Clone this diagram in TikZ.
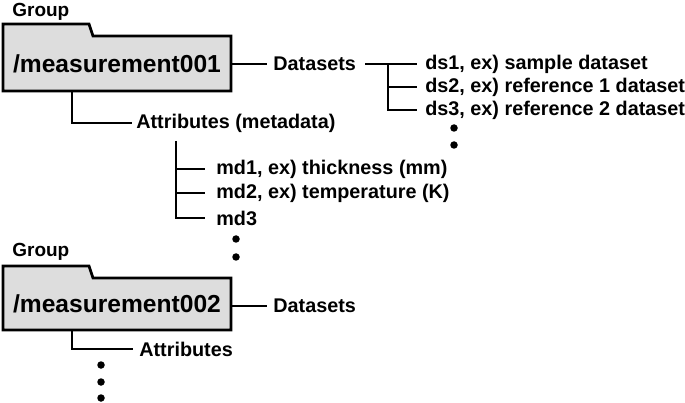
\documentclass[tikz,border=0pt]{standalone}
\usepackage{fontspec}
\setmainfont{Liberation Sans}
\definecolor{foldergray}{RGB}{221,221,221}
\begin{document}
\begin{tikzpicture}[x=1pt,y=-1pt, line width=2.7pt,
  lbl/.style={font=\bfseries\fontsize{19.8}{21}\selectfont, anchor=west, inner sep=0pt},
  grp/.style={font=\bfseries\fontsize{19}{21}\selectfont, anchor=west, inner sep=0pt},
  boxtxt/.style={font=\bfseries\fontsize{24.6}{27}\selectfont, inner sep=0pt, minimum width=228pt},
  folder/.style={draw, fill=foldergray, line width=2.7pt, line join=miter},
  blob/.style={circle, fill, inner sep=0pt, minimum size=7.5pt},
  conn/.style={line width=2.7pt}]
\useasboundingbox (0,0) rectangle (685,403);

% ---------- group 1 ----------
\draw[folder] (3,24) -- (89,24) -- (93,36) -- (231,36) -- (231,91) -- (3,91) -- cycle;
\node[grp] (g1) at (11,12) {Group};
\node[boxtxt, minimum height=55pt] (m1) at (117,63.5) {/measurement001};
\node[lbl] (d1) at (272,64) {Datasets};
\draw[conn] (d1.west -| m1.east) -- ([xshift=-5pt]d1.west);

\node[lbl] (ds1) at (424,64) {ds1, ex) sample dataset};
\node[lbl] (ds2) at (424,87) {ds2, ex) reference 1 dataset};
\node[lbl] (ds3) at (424,110) {ds3, ex) reference 2 dataset};
\coordinate (v1) at (388,64);
\draw[conn] ([xshift=8pt]d1.east) -- ([xshift=-7pt]ds1.west);
\draw[conn] (ds1.west -| v1) -- (ds3.west -| v1) -- ([xshift=-7pt]ds3.west);
\draw[conn] (ds2.west -| v1) -- ([xshift=-7pt]ds2.west);
\node[blob] (e1) at (454,128) {};
\node[blob] (e2) at (454,145) {};

\node[lbl] (a1) at (135,123) {Attributes (metadata)};
\draw[conn] ([xshift=-45pt]m1.south) |- ([xshift=-3pt]a1.west);

\node[lbl] (md1) at (215,169) {md1, ex) thickness (mm)};
\node[lbl] (md2) at (215,193) {md2, ex) temperature (K)};
\node[lbl] (md3) at (215,218) {md3};
\coordinate (v2) at (176,141);
\draw[conn] (v2) |- ([xshift=-10pt]md3.west);
\draw[conn] (md1.west -| v2) -- ([xshift=-10pt]md1.west);
\draw[conn] (md2.west -| v2) -- ([xshift=-10pt]md2.west);
\node[blob] (f1) at (236,239) {};
\node[blob] (f2) at (236,257) {};

% ---------- group 2 ----------
\draw[folder] (3,266) -- (89,266) -- (93,278) -- (231,278) -- (231,330) -- (3,330) -- cycle;
\node[grp] (g2) at (11,252) {Group};
\node[boxtxt, minimum height=52pt] (m2) at (117,304) {/measurement002};
\node[lbl] (d2) at (272,306) {Datasets};
\draw[conn] (d2.west -| m2.east) -- ([xshift=-5pt]d2.west);

\node[lbl] (a2) at (138,349) {Attributes};
\draw[conn] ([xshift=-45pt]m2.south) |- ([xshift=-5pt]a2.west);
\node[blob] (h1) at (101,365) {};
\node[blob] (h2) at (101,382) {};
\node[blob] (h3) at (101,398) {};
\end{tikzpicture}
\end{document}
